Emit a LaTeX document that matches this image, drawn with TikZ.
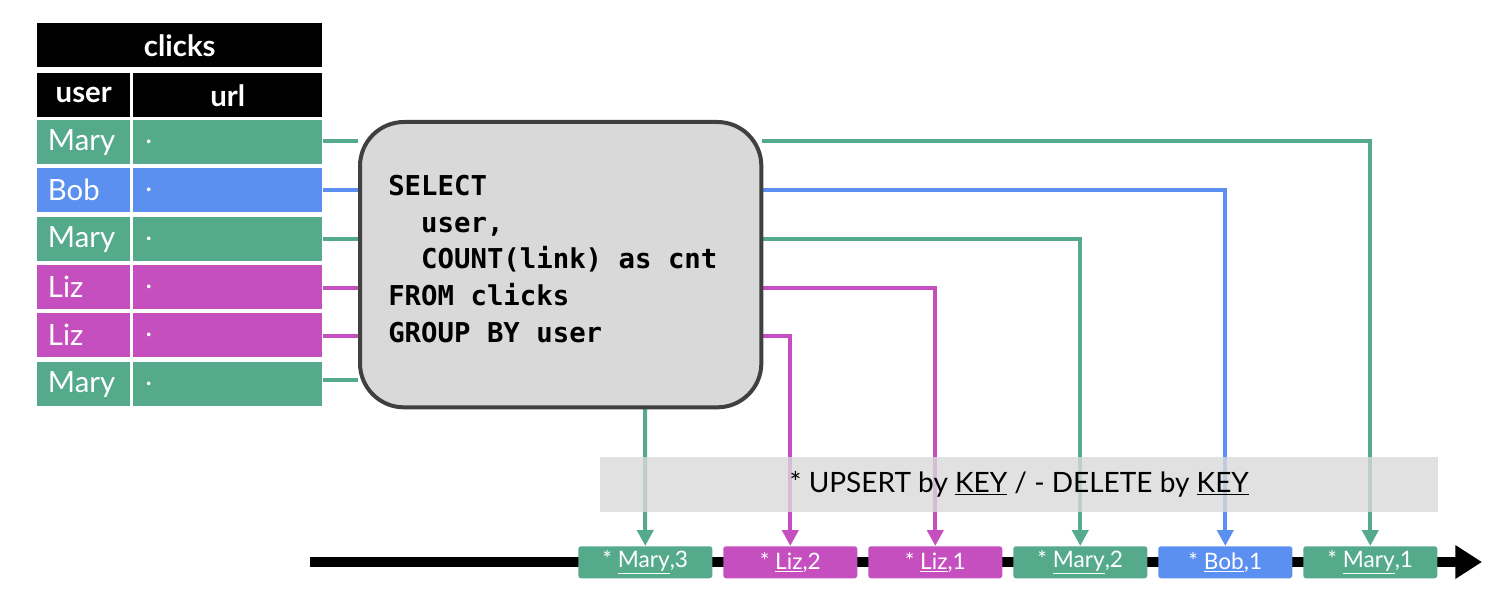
\documentclass[tikz,border=0pt]{standalone}
\usepackage{fontspec}
\setmainfont{Lato}
\newfontfamily\monof{DejaVu Sans Mono}
\usetikzlibrary{arrows.meta}
\definecolor{colG}{HTML}{55AA8C}
\definecolor{colB}{HTML}{5B8FF0}
\definecolor{colM}{HTML}{C64FC0}
\definecolor{bx}{HTML}{D9D9D9}
\begin{document}
\begin{tikzpicture}[x=0.75pt,y=-0.75pt,
  cell/.style={anchor=north west,minimum height=33pt,inner sep=0pt,text=white,font=\fontsize{22}{24}\selectfont},
  hd/.style={cell,fill=black,font=\fontsize{22}{24}\selectfont\bfseries,align=center},
  ln/.style={line width=3pt},
  ar/.style={ln,-{Triangle[length=12pt,width=12pt]}},
  ev/.style={anchor=north west,minimum width=100.5pt,minimum height=24pt,rounded corners=2pt,inner sep=0pt,text=white,font=\fontsize{17}{19}\selectfont}]
\useasboundingbox (0,0) rectangle (1512,613);
% table
\node[hd,minimum width=213.75pt] (clicks) at (37,23) {clicks};
\node[hd,minimum width=69.75pt] (huser) at (37,73) {user};
\node[hd,minimum width=141.75pt] (hurl) at (133,73) {url};
\foreach \i/\y/\c/\u/\l in {1/120/colG/Mary/./home,2/168/colB/Bob/./cart,3/217/colG/Mary/./prod?id=1,4/265/colM/Liz/./home,5/313/colM/Liz/./prod?id=3,6/362/colG/Mary/./prod?id=7}{
  \node[cell,fill=\c,minimum width=69.75pt,text width=69.75pt,align=left] (u\i) at (37,\y) {\hspace*{8pt}\u};
  \node[cell,fill=\c,minimum width=141.75pt,text width=141.75pt,align=left] (r\i) at (133,\y) {\hspace*{9pt}\l};
}
% connectors behind box
\coordinate (bl1) at (358,141); \coordinate (bl2) at (358,190); \coordinate (bl3) at (358,239);
\coordinate (bl4) at (358,288); \coordinate (bl5) at (358,336); \coordinate (bl6) at (358,380);
\draw[ln,colG] (r1.east|-bl1) -- (bl1);
\draw[ln,colB] (r2.east|-bl2) -- (bl2);
\draw[ln,colG] (r3.east|-bl3) -- (bl3);
\draw[ln,colM] (r4.east|-bl4) -- (bl4);
\draw[ln,colM] (r5.east|-bl5) -- (bl5);
\draw[ln,colG] (r6.east|-bl6) -- (bl6);
% events
\draw[line width=7.5pt,-{Triangle[length=20pt,width=24pt]}] (310,562) coordinate (ts) -- (1482,562) coordinate (te);
\node[ev,fill=colG] (e1) at (578,546) {* \underline{Mary},3};
\node[ev,fill=colM] (e2) at (723,546) {* \underline{Liz},2};
\node[ev,fill=colM] (e3) at (868,546) {* \underline{Liz},1};
\node[ev,fill=colG] (e4) at (1013,546) {* \underline{Mary},2};
\node[ev,fill=colB] (e5) at (1158,546) {* \underline{Bob},1};
\node[ev,fill=colG] (e6) at (1303,546) {* \underline{Mary},1};
\coordinate (o1) at (762,141); \coordinate (o2) at (762,190); \coordinate (o3) at (762,239);
\coordinate (o4) at (762,288); \coordinate (o5) at (762,336); \coordinate (o6) at (645,400);
\draw[ar,colG] (o1) -| (e6.north);
\draw[ar,colB] (o2) -| (e5.north);
\draw[ar,colG] (o3) -| (e4.north);
\draw[ar,colM] (o4) -| (e3.north);
\draw[ar,colM] (o5) -| (e2.north);
\draw[ar,colG] (o6) -- (e1.north);
% SQL box
\node[draw=black!75,line width=3pt,fill=bx,rounded corners=33pt,minimum width=301pt,minimum height=214pt,anchor=north west,inner sep=0pt] (sql) at (358,120) {};
\node[anchor=north west,align=left,inner sep=0pt,font=\monof\bfseries\fontsize{20.5}{27.5}\selectfont] (code) at (388,175) {SELECT\\\ \ user,\\\ \ COUNT(link) as cnt\\FROM clicks\\GROUP BY user};
% band
\node[fill=black!15,fill opacity=0.8,text opacity=1,minimum width=628.5pt,minimum height=41pt,anchor=north west,inner sep=0pt,font=\fontsize{21}{23}\selectfont] (band) at (600,457) {* UPSERT by \underline{KEY} / - DELETE by \underline{KEY}};
\end{tikzpicture}
\end{document}
